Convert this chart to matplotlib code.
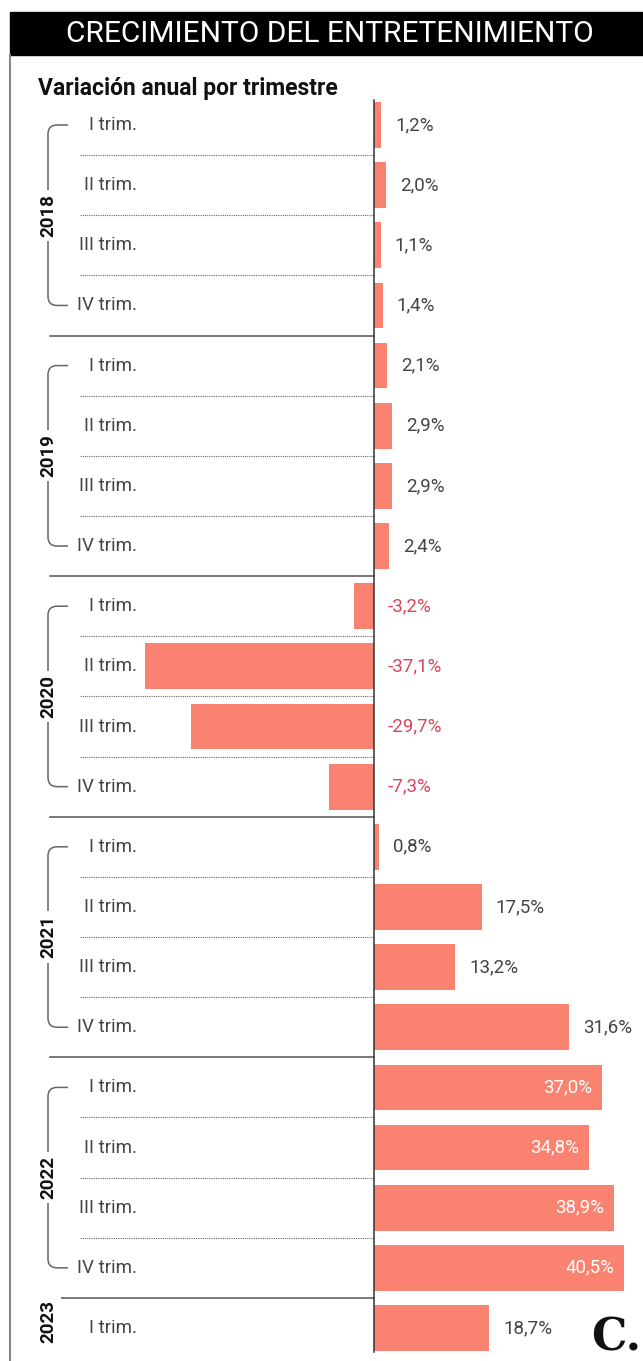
import matplotlib.pyplot as plt
from matplotlib.patches import Rectangle, PathPatch
from matplotlib.path import Path

# data
years = ['2018', '2019', '2020', '2021', '2022', '2023']
quarters_per_year = [4, 4, 4, 4, 4, 1]
quarter_names = ['I trim.', 'II trim.', 'III trim.', 'IV trim.']
values = [1.2, 2.0, 1.1, 1.4,
          2.1, 2.9, 2.9, 2.4,
          -3.2, -37.1, -29.7, -7.3,
          0.8, 17.5, 13.2, 31.6,
          37.0, 34.8, 38.9, 40.5,
          18.7]

title = 'CRECIMIENTO DEL ENTRETENIMIENTO'
subtitle = 'Variación anual por trimestre'

bar_color = '#fa8270'
neg_color = '#d4475a'
text_color = '#444444'
plt.rcParams['font.family'] = ['Roboto', 'DejaVu Sans']

W, H = 643, 1361
fig = plt.figure(figsize=(W / 100, H / 100), dpi=100)
ax = fig.add_axes([0, 0, 1, 1])
ax.axis('off')

# pixel geometry: zero at x=374px, 6.17 px per %, first row at 125px, 60.15 px per row
ZX, SX = 374, 6.17
Y0, SY = 125, 60.15
ax.set_xlim(-ZX / SX, (W - ZX) / SX)
ax.set_ylim((H - Y0) / SY, -Y0 / SY)


def dx(px):
    return (px - ZX) / SX


n = len(values)
rows = list(range(n))
ax.barh(rows, values, height=0.76, color=bar_color, zorder=3)

# zero line
ax.plot([0, 0], [-0.42, n - 0.6], color='#333333', lw=1.1, zorder=4)

# quarter labels, separators
labels = []
for q in quarters_per_year:
    labels += quarter_names[:q]
for i, lab in enumerate(labels):
    ax.text(dx(137), i, lab, ha='right', va='center', fontsize=13.5,
            color=text_color)

start = 0
for yi, q in enumerate(quarters_per_year):
    for k in range(q - 1):
        ax.plot([dx(80), 0], [start + k + 0.5] * 2, color='#666666', lw=0.8,
                ls=(0, (1, 1)), zorder=2)
    if yi < len(years) - 1:
        ax.plot([dx(50), 0], [start + q - 0.5] * 2, color='#555555', lw=1.1,
                zorder=2)
    # bracket + year label
    if q > 1:
        r0, r1 = start, start + q - 1
        bx, tx = dx(48), dx(68)
        rx, ry = 9 / SX, 9 / SY
        verts = [(tx, r0), (bx + rx, r0), (bx, r0), (bx, r0 + ry),
                 (bx, r1 - ry), (bx, r1), (bx + rx, r1), (tx, r1)]
        codes = [Path.MOVETO, Path.LINETO, Path.CURVE3, Path.CURVE3,
                 Path.LINETO, Path.CURVE3, Path.CURVE3, Path.LINETO]
        ax.add_patch(PathPatch(Path(verts, codes), fill=False,
                               edgecolor='#666666', lw=1.1))
        ymid = (r0 + r1) / 2
    else:
        bx = dx(48)
        ymid = start - 0.1
    ax.text(bx, ymid, years[yi], rotation=90, ha='center', va='center',
            fontsize=13.5, fontweight='bold', color='#111111',
            bbox=dict(facecolor='white', edgecolor='none', pad=3))
    start += q

# value labels
for i, v in enumerate(values):
    s = f'{v:.1f}'.replace('.', ',') + '%'
    if v < 0:
        ax.annotate(s, (0, i), xytext=(10, 0), textcoords='offset points',
                    ha='left', va='center', fontsize=13.5, color=neg_color)
    elif v > 33:
        ax.annotate(s, (v, i), xytext=(-7, 0), textcoords='offset points',
                    ha='right', va='center', fontsize=13.5, color='white',
                    zorder=5)
    else:
        ax.annotate(s, (v, i), xytext=(10, 0), textcoords='offset points',
                    ha='left', va='center', fontsize=13.5, color=text_color)

# header
fig.patches.append(Rectangle((10 / W, 1 - 55 / H), 1, 43 / H,
                             transform=fig.transFigure, color='black'))
fig.text(330 / W, 1 - 34 / H, title, ha='center', va='center',
         fontsize=21.5, color='white')
fig.text(38 / W, 1 - 88 / H, subtitle, ha='left', va='center',
         fontsize=16.5, fontweight='bold', color='#111111')
fig.add_artist(plt.Line2D([10 / W, 10 / W], [0, 1 - 55 / H],
                          transform=fig.transFigure, color='#888888', lw=1.5))
# logo
fig.text(641 / W, 1 - 1338 / H, 'C.', ha='right', va='center', fontsize=32,
         fontweight='bold', family='DejaVu Serif', color='#111111')

fig.savefig('out.png', dpi=100)
